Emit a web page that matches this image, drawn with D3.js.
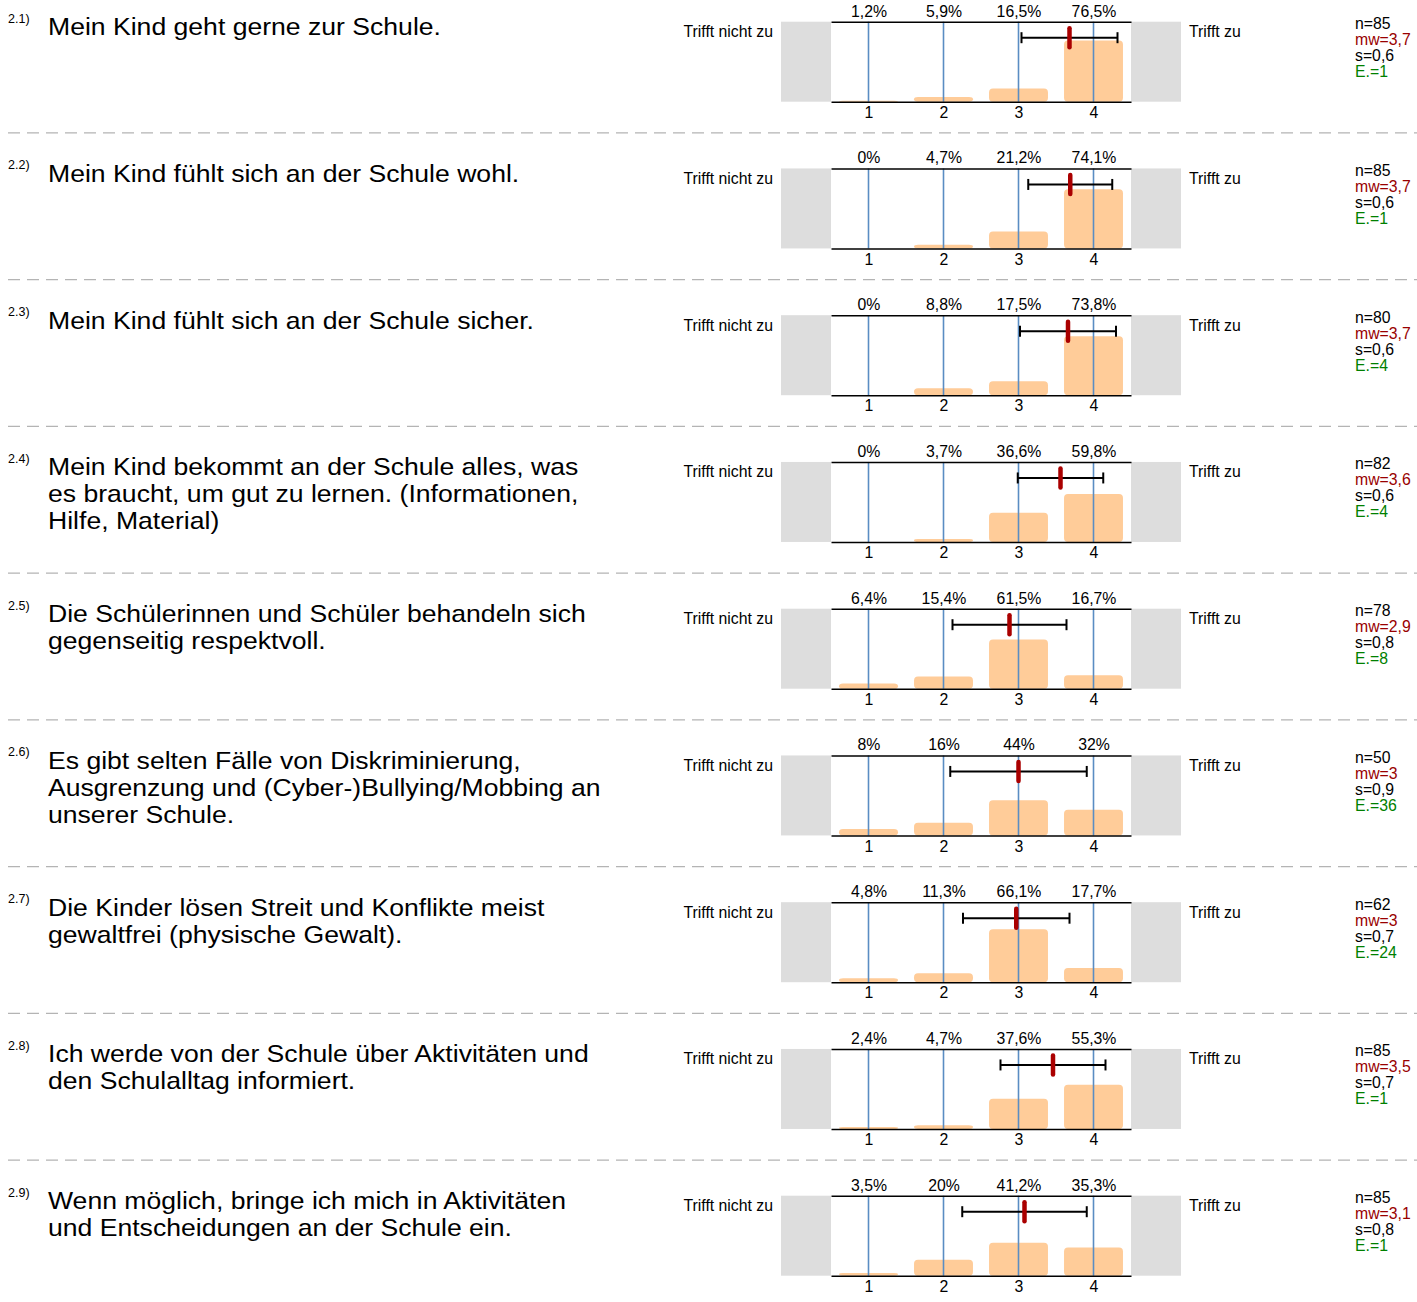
<!DOCTYPE html>
<html>
<head>
<meta charset="utf-8">
<script src="https://cdn.jsdelivr.net/npm/d3@7"></script>
<style>
  body { margin: 0; background: #fff; }
  svg { display: block; font-family: "Liberation Sans", Arial, sans-serif; }
</style>
</head>
<body>
<div id="chart"></div>
<script>
const itemIds = ['2.1)', '2.2)', '2.3)', '2.4)', '2.5)', '2.6)', '2.7)', '2.8)', '2.9)'];
const questions = [
    ['Mein Kind geht gerne zur Schule.'],
    ['Mein Kind fühlt sich an der Schule wohl.'],
    ['Mein Kind fühlt sich an der Schule sicher.'],
    ['Mein Kind bekommt an der Schule alles, was', 'es braucht, um gut zu lernen. (Informationen,', 'Hilfe, Material)'],
    ['Die Schülerinnen und Schüler behandeln sich', 'gegenseitig respektvoll.'],
    ['Es gibt selten Fälle von Diskriminierung,', 'Ausgrenzung und (Cyber-)Bullying/Mobbing an', 'unserer Schule.'],
    ['Die Kinder lösen Streit und Konflikte meist', 'gewaltfrei (physische Gewalt).'],
    ['Ich werde von der Schule über Aktivitäten und', 'den Schulalltag informiert.'],
    ['Wenn möglich, bringe ich mich in Aktivitäten', 'und Entscheidungen an der Schule ein.']
];
const categories = [1, 2, 3, 4];
const percents = [
    [1.2, 5.9, 16.5, 76.5],
    [0, 4.7, 21.2, 74.1],
    [0, 8.8, 17.5, 73.8],
    [0, 3.7, 36.6, 59.8],
    [6.4, 15.4, 61.5, 16.7],
    [8, 16, 44, 32],
    [4.8, 11.3, 66.1, 17.7],
    [2.4, 4.7, 37.6, 55.3],
    [3.5, 20, 41.2, 35.3]
];
const nValues = [85, 85, 80, 82, 78, 50, 62, 85, 85];
const means = [3.68, 3.69, 3.66, 3.56, 2.88, 3.0, 2.97, 3.46, 3.08];
const sds = [0.64, 0.56, 0.64, 0.57, 0.76, 0.91, 0.71, 0.70, 0.83];
const abstentions = [1, 1, 4, 4, 8, 36, 24, 1, 1];
const leftLabel = 'Trifft nicht zu';
const rightLabel = 'Trifft zu';

const width = 1417;
const height = 1302;
const rowStep = 146.75;
const firstTop = 21.7;
const plotH = 80;
const smallFont = 15.8;

const fmt = v => String(+v.toFixed(1)).replace('.', ',');

const svg = d3.select('#chart').append('svg')
    .attr('width', width)
    .attr('height', height);

const x = d3.scaleLinear().domain([0.5, 4.5]).range([831, 1131]);
const y = d3.scaleLinear().domain([0, 100]).range([plotH, 0]);
const halfBar = 0.393;

questions.forEach((lines, i) => {
    const top = firstTop + i * rowStep;
    const g = svg.append('g').attr('transform', `translate(0, ${top})`);

    // separator above every row except the first
    if (i > 0) {
        g.append('line')
            .attr('x1', 8).attr('x2', width)
            .attr('y1', -35.5).attr('y2', -35.5)
            .attr('stroke', '#b4b4b4')
            .attr('stroke-width', 1.3)
            .attr('stroke-dasharray', '12,7');
    }

    g.append('text')
        .attr('x', 8).attr('y', 1)
        .attr('font-size', 12.5)
        .text(itemIds[i]);

    // question text, slightly widened like the original
    g.append('text')
        .attr('transform', 'translate(48, 0) scale(1.108, 1)')
        .attr('font-size', 24)
        .attr('fill', '#000')
        .selectAll('tspan')
        .data(lines)
        .join('tspan')
        .attr('x', 0)
        .attr('y', (d, k) => 13.5 + k * 27)
        .text(d => d);

    // gray end boxes
    g.append('rect')
        .attr('x', 781).attr('y', 0)
        .attr('width', x(0.5) - 781).attr('height', plotH)
        .attr('fill', '#dddddd');
    g.append('rect')
        .attr('x', x(4.5)).attr('y', 0)
        .attr('width', 50).attr('height', plotH)
        .attr('fill', '#dddddd');

    g.append('text')
        .attr('x', 773).attr('y', 15.5)
        .attr('text-anchor', 'end')
        .attr('font-size', smallFont)
        .text(leftLabel);
    g.append('text')
        .attr('x', 1189).attr('y', 15.5)
        .attr('font-size', smallFont)
        .text(rightLabel);

    // bars
    g.selectAll('.bar')
        .data(categories.map((c, k) => ({ c, p: percents[i][k] })).filter(d => d.p > 0))
        .join('rect')
        .attr('class', 'bar')
        .attr('x', d => x(d.c - halfBar))
        .attr('width', d => x(d.c + halfBar) - x(d.c - halfBar))
        .attr('y', d => y(d.p))
        .attr('height', d => Math.max(plotH - y(d.p), 1))
        .attr('rx', 4)
        .attr('fill', '#ffcc99');

    // blue grid lines
    g.selectAll('.grid')
        .data(categories)
        .join('line')
        .attr('class', 'grid')
        .attr('x1', d => x(d)).attr('x2', d => x(d))
        .attr('y1', 0).attr('y2', plotH)
        .attr('stroke', '#5a8dc3')
        .attr('stroke-width', 1.6);

    // axes
    const axisTop = d3.axisTop(x)
        .tickValues(categories)
        .tickSize(0)
        .tickPadding(5)
        .tickFormat((d, k) => fmt(percents[i][k]) + '%');
    const axisBottom = d3.axisBottom(x)
        .tickValues(categories)
        .tickSize(0)
        .tickPadding(5)
        .tickFormat(d3.format('d'));

    [g.append('g').call(axisTop), g.append('g').attr('transform', `translate(0, ${plotH})`).call(axisBottom)]
        .forEach(a => {
            a.select('.domain').attr('stroke', '#000').attr('stroke-width', 1.5);
            a.selectAll('text').attr('font-size', smallFont).attr('fill', '#000')
                .attr('font-family', '"Liberation Sans", Arial, sans-serif');
        });

    // error bar (mean +- sd)
    const eb = g.append('g').attr('transform', 'translate(0, 16)');
    const lo = x(means[i] - sds[i]);
    const hi = x(means[i] + sds[i]);
    eb.append('line')
        .attr('x1', lo).attr('x2', hi)
        .attr('stroke', '#000').attr('stroke-width', 2);
    eb.selectAll('.cap')
        .data([lo, hi])
        .join('line')
        .attr('class', 'cap')
        .attr('x1', d => d).attr('x2', d => d)
        .attr('y1', -5.5).attr('y2', 5.5)
        .attr('stroke', '#000').attr('stroke-width', 2);
    eb.append('line')
        .attr('x1', x(means[i])).attr('x2', x(means[i]))
        .attr('y1', -9.5).attr('y2', 9.5)
        .attr('stroke', '#aa0000')
        .attr('stroke-width', 4.5)
        .attr('stroke-linecap', 'round');

    // stats block
    const stats = [
        { t: 'n=' + nValues[i], c: '#000' },
        { t: 'mw=' + fmt(means[i]), c: '#990000' },
        { t: 's=' + fmt(sds[i]), c: '#000' },
        { t: 'E.=' + abstentions[i], c: '#008000' }
    ];
    g.append('text')
        .attr('font-size', smallFont)
        .selectAll('tspan')
        .data(stats)
        .join('tspan')
        .attr('x', 1355)
        .attr('y', (d, k) => 7.5 + k * 16)
        .attr('fill', d => d.c)
        .text(d => d.t);
});
</script>
</body>
</html>
